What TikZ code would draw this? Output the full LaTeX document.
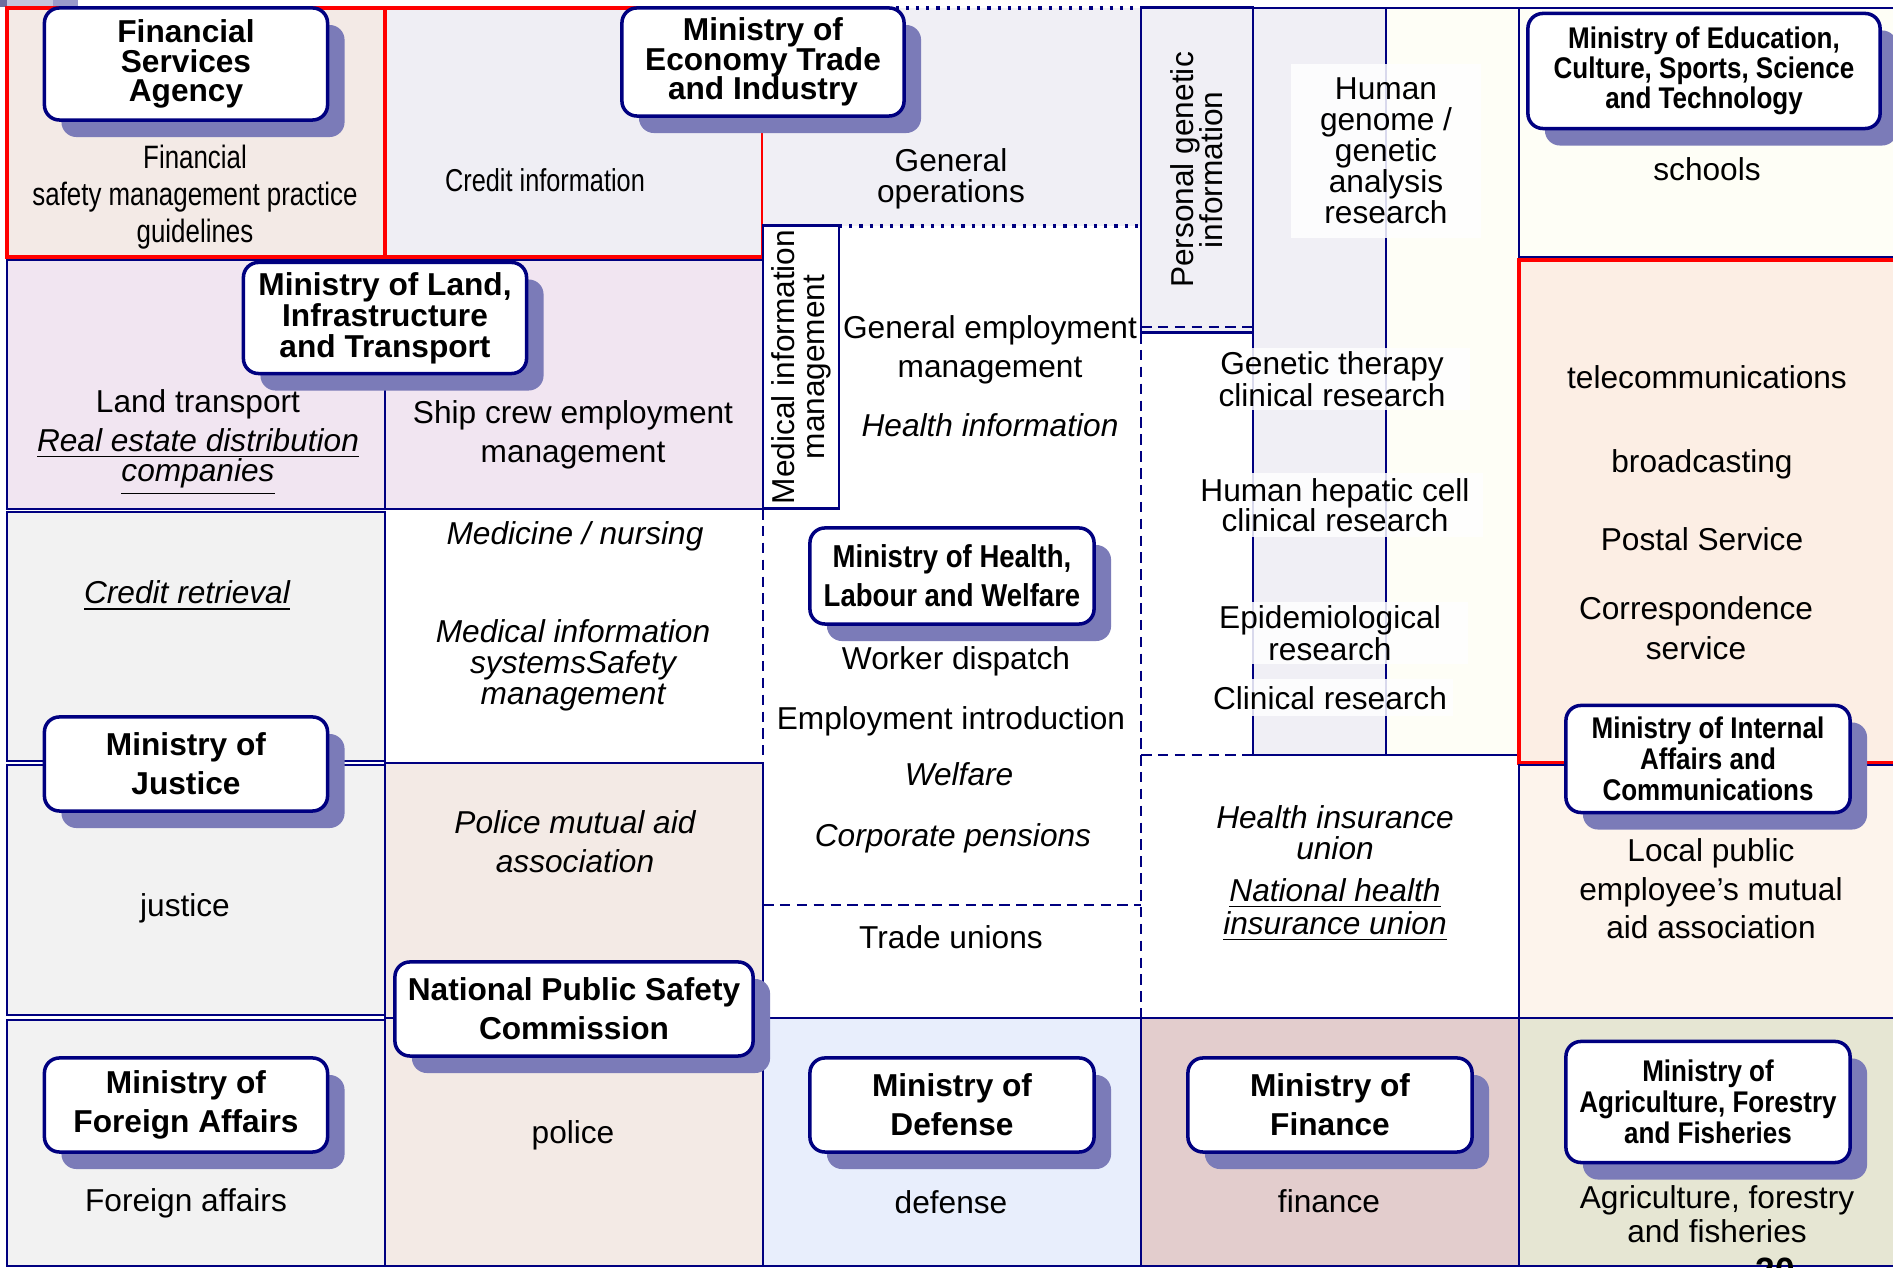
\documentclass[tikz,border=0pt]{standalone}
\usepackage{fontspec}
\setmainfont{Liberation Sans}
\newfontfamily\narrowfont[FakeStretch=0.8]{Liberation Sans}
\newfontfamily\condfont[FakeStretch=0.87]{Liberation Sans}
\usetikzlibrary{shadows}
\setlength{\lineskiplimit}{-10pt}

\definecolor{navy}{HTML}{000080}
\definecolor{shadowblue}{HTML}{7B7BB8}
\definecolor{finpink}{HTML}{F3EAE6}
\definecolor{creditgray}{HTML}{EFEEF4}
\definecolor{landpurple}{HTML}{F1E5F1}
\definecolor{cellgray}{HTML}{F2F2F2}
\definecolor{policepink}{HTML}{F3EAE5}
\definecolor{opsgray}{HTML}{F0EFF5}
\definecolor{cream}{HTML}{FEFEF6}
\definecolor{telpeach}{HTML}{FCEEE4}
\definecolor{localpeach}{HTML}{FDF4EC}
\definecolor{defblue}{HTML}{E8EEFC}
\definecolor{finrose}{HTML}{E3CDCD}
\definecolor{agribeige}{HTML}{E6E6D3}
\definecolor{cornerdark}{HTML}{6E6E9E}
\definecolor{cornerlight}{HTML}{C4C4DC}
\definecolor{cornermid}{HTML}{9A9ACB}

\tikzset{
  agency/.style={draw=navy, line width=1pt, fill=white, rounded corners=0.15cm,
    align=center, inner sep=0pt, font=\bfseries\fontsize{9}{11}\selectfont,
    drop shadow={shadow xshift=0.17cm, shadow yshift=-0.17cm, fill=shadowblue, opacity=1}},
  duty/.style={align=center, inner sep=0pt, font=\fontsize{9}{11}\selectfont},
  research/.style={align=center, inner sep=0pt, fill=white, fill opacity=0.85, text opacity=1,
    font=\fontsize{9}{9}\selectfont},
  grid/.style={draw=navy, line width=0.75pt},
  redgrid/.style={draw=red, line width=1pt},
  split/.style={navy, line width=0.75pt, dash pattern=on 3pt off 1.8pt}
}

\begin{document}
\begin{tikzpicture}[x=0.01cm, y=-0.01cm]
  \useasboundingbox[fill=white] (0,0) rectangle (1893,1268);

  % slide corner marks
  \fill[cornerdark] (0,0) rectangle (7,7);
  \fill[cornerlight] (7,0) rectangle (53,7);
  \fill[cornermid] (53,0) rectangle (78,7);

  % first column
  \draw[redgrid, fill=finpink] (7,8) rectangle (385,257);
  \draw[grid, fill=landpurple] (7,260) rectangle (385,509);
  \draw[grid, fill=cellgray] (7,512) rectangle (385,761);
  \draw[grid, fill=cellgray] (7,765) rectangle (385,1015);
  \draw[grid, fill=cellgray] (7,1020) rectangle (385,1266);

  % second column
  \draw[redgrid, fill=creditgray] (385,8) rectangle (763,257);
  \draw[grid, fill=landpurple] (385,260) rectangle (763,509);
  \draw[grid, fill=policepink] (385,763) rectangle (763,1018);
  \draw[grid, fill=policepink] (385,1018) rectangle (763,1266);

  % third column
  \fill[opsgray] (763,8) rectangle (1141,226);
  \draw[navy, line width=0.9pt, dotted] (763,8) -- (1141,8);
  \draw[navy, line width=0.9pt, dotted] (839,226) -- (1141,226);
  \draw[split] (763,509) -- (763,755);
  \draw[split] (763,905) -- (1141,905);
  \draw[split] (1141,333) -- (1141,1018);
  \draw[grid, fill=defblue] (763,1018) rectangle (1141,1266);

  % fourth column
  \draw[grid, fill=opsgray] (1253,8) rectangle (1386,755);
  \draw[grid, fill=cream] (1386,8) rectangle (1519,755);
  \draw[split] (1141,755) -- (1253,755);
  \draw[grid] (1519,755) -- (1519,1018);
  \draw[grid, fill=finrose] (1141,1018) rectangle (1519,1266);

  % fifth column
  \draw[grid, fill=cream] (1519,8) rectangle (1900,257);
  \draw[redgrid, fill=telpeach] (1519,260) rectangle (1900,763);
  \draw[grid, fill=localpeach] (1519,765) rectangle (1900,1018);
  \draw[grid, fill=agribeige] (1519,1018) rectangle (1900,1266);

  % vertical information boxes
  \node[draw=navy, line width=0.75pt, fill=white, rotate=90, minimum width=2.83cm,
    minimum height=0.76cm, inner sep=0pt, align=center,
    font=\fontsize{9}{8.6}\selectfont] (medinfo) at (801,367) {Medical information\\management};
  \node[draw=navy, line width=0.75pt, fill=opsgray, rotate=90, minimum width=3.25cm,
    minimum height=1.12cm, inner sep=0pt, align=center,
    font=\fontsize{9}{8.3}\selectfont] (genetic) at (1197,170) {Personal genetic\\information};
  \draw[split] (1141,327) -- (1253,327);

  % ministries
  \node[agency, minimum width=2.83cm, minimum height=1.12cm,
    font=\bfseries\fontsize{9}{8.3}\selectfont] (fsa) at (186,64) {Financial\\Services\\Agency};
  \node[agency, minimum width=2.82cm, minimum height=1.08cm,
    font=\bfseries\fontsize{9}{8.3}\selectfont] (meti) at (763,62) {Ministry of\\Economy Trade\\and Industry};
  \node[agency, minimum width=3.52cm, minimum height=1.15cm,
    font=\condfont\bfseries\fontsize{8.5}{8.6}\selectfont] (mext) at (1704,71)
    {Ministry of Education,\\Culture, Sports, Science\\and Technology};
  \node[agency, minimum width=2.83cm, minimum height=1.11cm,
    font=\bfseries\fontsize{9}{8.8}\selectfont] (mlit) at (385,318)
    {Ministry of Land,\\Infrastructure\\and Transport};
  \node[agency, minimum width=2.84cm, minimum height=0.96cm,
    font=\condfont\bfseries\fontsize{9}{11}\selectfont] (mhlw) at (952,576)
    {Ministry of Health,\\Labour and Welfare};
  \node[agency, minimum width=2.83cm, minimum height=0.94cm] (moj) at (186,764) {Ministry of\\Justice};
  \node[agency, minimum width=3.58cm, minimum height=0.94cm] (npsc) at (574,1009)
    {National Public Safety\\Commission};
  \node[agency, minimum width=2.83cm, minimum height=0.94cm] (mofa) at (186,1105)
    {Ministry of\\Foreign Affairs};
  \node[agency, minimum width=2.84cm, minimum height=0.94cm] (mod) at (952,1105) {Ministry of\\Defense};
  \node[agency, minimum width=2.84cm, minimum height=0.94cm] (mof) at (1330,1105) {Ministry of\\Finance};
  \node[agency, minimum width=2.84cm, minimum height=1.07cm,
    font=\condfont\bfseries\fontsize{8.5}{8.9}\selectfont] (mic) at (1708,759)
    {Ministry of Internal\\Affairs and\\Communications};
  \node[agency, minimum width=2.84cm, minimum height=1.21cm,
    font=\condfont\bfseries\fontsize{8.5}{8.8}\selectfont] (maff) at (1708,1102)
    {Ministry of\\Agriculture, Forestry\\and Fisheries};

  % fields of the first two columns
  \node[duty, font=\narrowfont\fontsize{9.2}{10.6}\selectfont] (finguide) at (195,197)
    {Financial\\safety management practice\\guidelines};
  \node[duty, font=\narrowfont\fontsize{9}{11}\selectfont] (creditinfo) at (545,180) {Credit information};
  \node[duty] (landtr) at (198,404) {Land transport};
  \node[duty, font=\itshape\fontsize{9}{8.6}\selectfont] (realestate) at (198,462)
    {\underline{Real estate distribution}\\\underline{companies}};
  \node[duty] (shipcrew) at (573,435) {Ship crew employment\\management};
  \node[duty, font=\itshape\fontsize{9}{11}\selectfont] (creditret) at (187,596) {\underline{Credit retrieval}};
  \node[duty, font=\itshape\fontsize{9}{11}\selectfont] (medicine) at (575,536) {Medicine / nursing};
  \node[duty, font=\itshape\fontsize{9}{8.8}\selectfont] (medsys) at (573,665)
    {Medical information\\systemsSafety\\management};
  \node[duty] (justice) at (185,908) {justice};
  \node[duty, font=\itshape\fontsize{9}{11}\selectfont] (policeaid) at (575,842)
    {Police mutual aid\\association};
  \node[duty] (police) at (573,1135) {police};
  \node[duty] (foreign) at (186,1203) {Foreign affairs};

  % fields of the health column
  \node[duty, font=\fontsize{9}{8.9}\selectfont] (genops) at (951,179) {General\\operations};
  \node[duty] (genemp) at (990,350) {General employment\\management};
  \node[duty, font=\itshape\fontsize{9}{11}\selectfont] (healthinfo) at (990,425) {Health information};
  \node[duty] (dispatch) at (956,661) {Worker dispatch};
  \node[duty] (intro) at (951,721) {Employment introduction};
  \node[duty, font=\itshape\fontsize{9}{11}\selectfont] (welfare) at (959,774) {Welfare};
  \node[duty, font=\itshape\fontsize{9}{11}\selectfont] (pensions) at (953,838) {Corporate pensions};
  \node[duty] (unions) at (951,937) {Trade unions};
  \node[duty] (defense) at (951,1202) {defense};

  % research fields
  \node[research, minimum width=1.89cm, minimum height=1.73cm,
    font=\fontsize{9}{8.8}\selectfont] (genome) at (1386,151) {Human\\genome /\\genetic\\analysis\\research};
  \node[research, minimum width=2.75cm, minimum height=0.61cm] (therapy) at (1332,379)
    {Genetic therapy\\clinical research};
  \node[research, minimum width=2.95cm, minimum height=0.63cm,
    font=\fontsize{9}{8.6}\selectfont] (hepatic) at (1335,505) {Human hepatic cell\\clinical research};
  \node[research, minimum width=2.75cm, minimum height=0.62cm] (epidem) at (1330,633)
    {Epidemiological\\research};
  \node[research, minimum width=2.45cm, minimum height=0.37cm] (clinical) at (1330,698) {Clinical research};
  \node[duty, font=\itshape\fontsize{9}{8.9}\selectfont] (insurance) at (1335,833)
    {Health insurance\\union};
  \node[duty, font=\itshape\fontsize{9}{9.3}\selectfont] (national) at (1335,910)
    {\underline{National health}\\\underline{insurance union}};
  \node[duty] (finance) at (1329,1201) {finance};

  % fields of the last column
  \node[duty] (schools) at (1707,169) {schools};
  \node[duty] (telecom) at (1707,377) {telecommunications};
  \node[duty] (broadcast) at (1702,464) {broadcasting};
  \node[duty] (postal) at (1702,539) {Postal Service};
  \node[duty, font=\fontsize{9}{11.4}\selectfont] (corresp) at (1696,628) {Correspondence\\service};
  \node[duty, font=\fontsize{9}{10.9}\selectfont] (localaid) at (1711,889)
    {Local public\\employee’s mutual\\aid association};
  \node[duty, font=\fontsize{9}{9.6}\selectfont] (agri) at (1717,1214)
    {Agriculture, forestry\\and fisheries};

  % page number
  \node[anchor=north, inner sep=0pt, font=\bfseries\fontsize{10}{10}\selectfont] (pagenum) at (1775,1257) {20};
\end{tikzpicture}
\end{document}
